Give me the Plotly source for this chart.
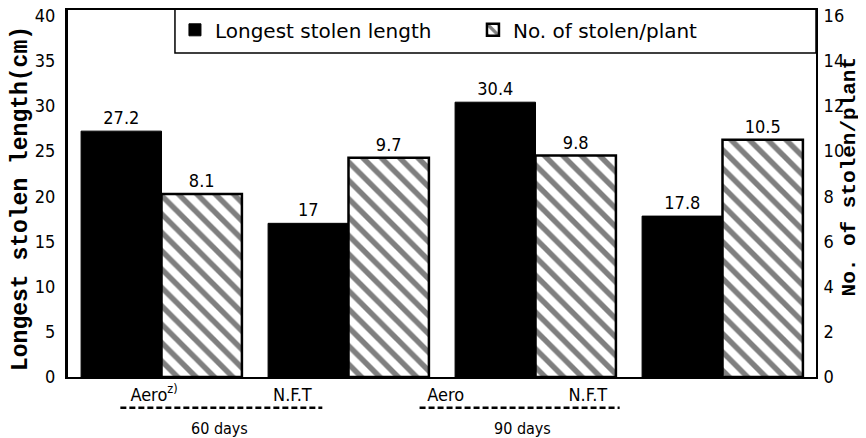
import plotly.graph_objects as go

groups = ["Aero", "N.F.T", "Aero", "N.F.T"]
tick_labels = ["Aero<sup>z)</sup>", "N.F.T", "Aero", "N.F.T"]
periods = ["60 days", "90 days"]
stolen_length = [27.2, 17, 30.4, 17.8]
stolen_number = [8.1, 9.7, 9.8, 10.5]
left_ticks = [0, 5, 10, 15, 20, 25, 30, 35, 40]
right_ticks = [0, 2, 4, 6, 8, 10, 12, 14, 16]

xpos = list(range(len(groups)))
numfont = dict(family="DejaVu Sans Condensed, Liberation Sans Narrow, Arial", size=18, color="black")

fig = go.Figure()
fig.add_trace(go.Bar(
    x=xpos, y=stolen_length, name="Longest stolen length",
    marker=dict(color="black", line=dict(color="black", width=1)),
    width=0.43, offset=-0.43,
    text=[f"{v:g}" for v in stolen_length], textposition="outside",
    textfont=numfont, cliponaxis=False, yaxis="y",
))
fig.add_trace(go.Bar(
    x=xpos, y=stolen_number, name="No. of stolen/plant",
    marker=dict(color="white", line=dict(color="black", width=2.5),
                pattern=dict(shape="\\", fgcolor="black", bgcolor="white", size=13, solidity=0.42)),
    width=0.43, offset=0,
    text=[f"{v:g}" for v in stolen_number], textposition="outside",
    textfont=numfont, cliponaxis=False, yaxis="y2",
))

# legend box
fig.add_shape(type="rect", xref="paper", yref="paper", x0=0.143, x1=1.0, y0=0.883, y1=1.005,
              line=dict(color="black", width=1.5), fillcolor="white", layer="below")

# dashed underlines for periods
for x0, x1 in [(-0.22, 0.86), (1.38, 2.45)]:
    fig.add_shape(type="line", xref="x", yref="paper", x0=x0, x1=x1, y0=-0.084, y1=-0.084,
                  line=dict(color="black", width=2.5, dash="6px,3px"))

for xp, txt in zip([0.31, 1.93], periods):
    fig.add_annotation(x=xp, y=-0.139, xref="x", yref="paper", text=txt, showarrow=False,
                       xanchor="center", yanchor="middle",
                       font=dict(family="DejaVu Sans Condensed, Arial", size=16, color="black"))

fig.add_annotation(x=-0.0628, y=0.485, xref="paper", yref="paper", text="<b>Longest stolen length(cm)</b>",
                   textangle=-90, showarrow=False, xanchor="center", yanchor="middle",
                   font=dict(family="Liberation Mono, Courier New, monospace", size=23, color="black"))
fig.add_annotation(x=1.046, y=0.545, xref="paper", yref="paper", text="<b>No. of stolen/plant</b>",
                   textangle=-90, showarrow=False, xanchor="center", yanchor="middle",
                   font=dict(family="Liberation Mono, Courier New, monospace", size=21, color="black"))

# page has an 8px body margin: figure sized so the plot lands where the reference has it
fig.update_layout(
    width=858, height=430,
    margin=dict(l=60, r=50, t=2, b=61, autoexpand=False),
    paper_bgcolor="white", plot_bgcolor="white",
    barmode="overlay",
    showlegend=True,
    legend=dict(orientation="h", x=0.143, y=0.946, xanchor="left", yanchor="middle",
                bgcolor="rgba(0,0,0,0)", borderwidth=0,
                font=dict(family="DejaVu Sans, Arial", size=20, color="black"),
                entrywidth=253, entrywidthmode="pixels", itemwidth=30),
    xaxis=dict(range=[-0.5, 3.5], tickvals=[-0.04, 0.70, 1.52, 2.28], ticktext=tick_labels,
               showline=True, linecolor="black", linewidth=2, mirror=True, showgrid=False,
               zeroline=False, ticks="", automargin=False,
               tickfont=dict(family="DejaVu Sans Condensed, Arial", size=18, color="black")),
    yaxis=dict(range=[0, 40.6], tickvals=left_ticks, showline=True, linecolor="black", linewidth=3,
               showgrid=False, zeroline=False, ticks="", ticklabelstandoff=6, automargin=False,
               ticklabeloverflow="allow", tickfont=numfont),
    yaxis2=dict(range=[0, 16.24], tickvals=right_ticks, overlaying="y", side="right",
                showline=True, linecolor="black", linewidth=2, showgrid=False, zeroline=False,
                ticks="", ticklabelstandoff=2, automargin=False, ticklabeloverflow="allow",
                tickfont=numfont),
)

fig.write_html("out.html")
